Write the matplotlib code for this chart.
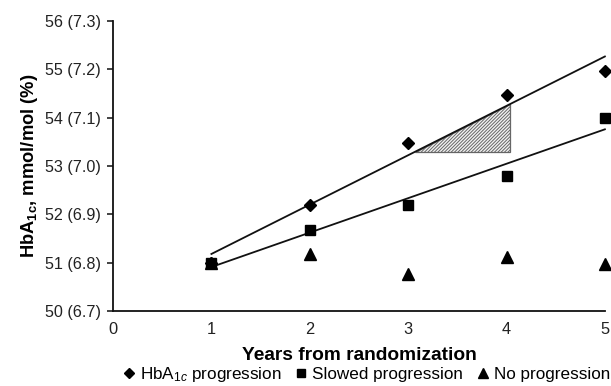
import numpy as np
import matplotlib
matplotlib.use("Agg")
import matplotlib.pyplot as plt
from matplotlib.patches import Polygon
from matplotlib.lines import Line2D

plt.rcParams['font.family'] = ['Liberation Sans', 'DejaVu Sans']
plt.rcParams['mathtext.fontset'] = 'custom'
plt.rcParams['mathtext.rm'] = 'Liberation Sans'
plt.rcParams['mathtext.it'] = 'Liberation Sans:italic'
plt.rcParams['mathtext.bf'] = 'Liberation Sans:bold'
plt.rcParams['hatch.linewidth'] = 0.7

years = [1, 2, 3, 4, 5]
hba1c_progression = [51.0, 52.2, 53.48, 54.47, 54.97]
slowed_progression = [51.0, 51.68, 52.2, 52.8, 54.0]
no_progression = [51.0, 51.18, 50.77, 51.12, 50.97]
y_ticks = [50, 51, 52, 53, 54, 55, 56]
y_tick_labels = ["50 (6.7)", "51 (6.8)", "52 (6.9)", "53 (7.0)", "54 (7.1)", "55 (7.2)", "56 (7.3)"]
x_ticks = [0, 1, 2, 3, 4, 5]
shade_x = [3.07, 4.04]

fig = plt.figure(figsize=(6.11, 3.86), dpi=100)
ax = fig.add_axes([0.185, 0.194, 0.805, 0.7516])

x = np.array(years, dtype=float)
fit1 = np.polyfit(x, hba1c_progression, 1)
fit2 = np.polyfit(x, slowed_progression, 1)
xl = np.array([1.0, 5.0])
ax.plot(xl, np.polyval(fit1, xl), color='#111111', lw=1.3, clip_on=False)
ax.plot(xl, np.polyval(fit2, xl), color='#111111', lw=1.3, clip_on=False)

# hatched triangle
ya = np.polyval(fit1, shade_x[0])
yb = np.polyval(fit1, shade_x[1])
tri = Polygon([(shade_x[0], ya), (shade_x[1], ya), (shade_x[1], yb)],
              closed=True, facecolor='#f2f2f2', edgecolor='#666666', hatch='//////////', lw=0.9)
ax.add_patch(tri)

ax.plot(years, hba1c_progression, linestyle='none', marker='D', ms=6.5, color='black', clip_on=False)
ax.plot(years, slowed_progression, linestyle='none', marker='s', ms=6.5, color='black', clip_on=False)
ax.plot(years, no_progression, linestyle='none', marker='^', ms=8, color='black', clip_on=False)

ax.set_xlim(0, 5)
ax.set_ylim(50, 56)
ax.set_xticks(x_ticks)
ax.set_yticks(y_ticks)
ax.set_yticklabels(y_tick_labels)
ax.tick_params(axis='y', direction='out', length=4, width=1.2, labelsize=11.6, colors='#222222', pad=5)
ax.tick_params(axis='x', length=0, labelsize=11.8, colors='#222222', pad=8)
for s in ['top', 'right']:
    ax.spines[s].set_visible(False)
for s in ['left', 'bottom']:
    ax.spines[s].set_linewidth(1.3)
    ax.spines[s].set_color('#111111')

ax.set_xlabel("Years from randomization", fontsize=13.8, fontweight='bold', labelpad=7)
ax.set_ylabel(r"HbA$_{\mathbf{1c}}$, mmol/mol (%)", fontsize=13.2, fontweight='bold', labelpad=3)

handles = [
    Line2D([], [], linestyle='none', marker='D', ms=5, color='black'),
    Line2D([], [], linestyle='none', marker='s', ms=5.5, color='black'),
    Line2D([], [], linestyle='none', marker='^', ms=7, color='black'),
]
labels = [r"HbA$_{1c}$ progression", "Slowed progression", "No progression"]
fig.legend(handles, labels, loc='lower left', bbox_to_anchor=(0.19, -0.012), ncol=3,
           frameon=False, fontsize=12.3, handlelength=0.7, handletextpad=0.3,
           columnspacing=0.8, borderaxespad=0.0)

fig.savefig("out.png", dpi=100)
